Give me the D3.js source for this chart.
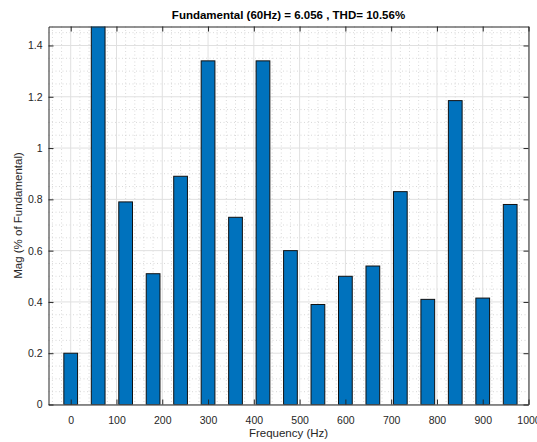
<!DOCTYPE html>
<html>
<head>
<meta charset="utf-8">
<script src="https://cdn.jsdelivr.net/npm/d3@7"></script>
<style>
  body { margin: 0; background: #fff; }
  svg { display: block; font-family: "Liberation Sans", Arial, sans-serif; }
</style>
</head>
<body>
<div id="chart"></div>
<script>
// harmonic frequencies (Hz) and magnitudes (% of fundamental)
const freqs = [0, 60, 120, 180, 240, 300, 360, 420, 480, 540, 600, 660, 720, 780, 840, 900, 960];
const mags = [0.2, 1.5, 0.79, 0.51, 0.89, 1.34, 0.73, 1.34, 0.6, 0.39, 0.5, 0.54, 0.83, 0.41, 1.185, 0.415, 0.78];
const xTicks = [0, 100, 200, 300, 400, 500, 600, 700, 800, 900, 1000];
const yTicks = [0, 0.2, 0.4, 0.6, 0.8, 1, 1.2, 1.4];
const titleText = "Fundamental (60Hz) = 6.056 , THD= 10.56%";

const W = 537, H = 442;
const margin = { top: 26.5, right: 8.5, bottom: 37.5, left: 48.5 };
const width = W - margin.left - margin.right;
const height = H - margin.top - margin.bottom;

const svg = d3.select("#chart").append("svg")
    .attr("width", W)
    .attr("height", H);

const g = svg.append("g")
    .attr("transform", `translate(${margin.left},${margin.top})`);

const x = d3.scaleLinear().domain([-48.5, 1000]).range([0, width]);
const y = d3.scaleLinear().domain([0, 1.474]).range([height, 0]);

// minor grid (dotted)
const xMinor = d3.range(-40, 1001, 20).filter(v => v % 100 !== 0);
const yMinor = d3.range(0.05, 1.474, 0.05).filter(v => Math.abs(v * 5 - Math.round(v * 5)) > 1e-6);

g.append("g").selectAll("line").data(xMinor).join("line")
    .attr("x1", d => x(d)).attr("x2", d => x(d))
    .attr("y1", 0).attr("y2", height)
    .attr("stroke", "#c8c8c8").attr("stroke-width", 0.7)
    .attr("stroke-dasharray", "1,2.5");
g.append("g").selectAll("line").data(yMinor).join("line")
    .attr("x1", 0).attr("x2", width)
    .attr("y1", d => y(d)).attr("y2", d => y(d))
    .attr("stroke", "#c8c8c8").attr("stroke-width", 0.7)
    .attr("stroke-dasharray", "1,2.5");

// major grid
g.append("g").selectAll("line").data(xTicks).join("line")
    .attr("x1", d => x(d)).attr("x2", d => x(d))
    .attr("y1", 0).attr("y2", height)
    .attr("stroke", "#e0e0e0").attr("stroke-width", 1);
g.append("g").selectAll("line").data(yTicks).join("line")
    .attr("x1", 0).attr("x2", width)
    .attr("y1", d => y(d)).attr("y2", d => y(d))
    .attr("stroke", "#e0e0e0").attr("stroke-width", 1);

// bars, clipped to the axes
svg.append("defs").append("clipPath").attr("id", "plot-clip")
    .append("rect").attr("width", width).attr("height", height);

const barW = 30;
g.append("g").attr("clip-path", "url(#plot-clip)")
    .selectAll("rect").data(freqs).join("rect")
    .attr("x", (d) => x(d - barW / 2))
    .attr("y", (d, i) => y(mags[i]))
    .attr("width", x(barW) - x(0))
    .attr("height", (d, i) => y(0) - y(mags[i]))
    .attr("fill", "#0072BD")
    .attr("stroke", "#111")
    .attr("stroke-width", 1);

// axes (ticks inward, box on)
const axisColor = "#262626";
const xAxis = g.append("g")
    .attr("transform", `translate(0,${height})`)
    .call(d3.axisBottom(x).tickValues(xTicks).tickSize(-5).tickPadding(12).tickSizeOuter(0)
        .tickFormat(d3.format("d")));
const xTop = g.append("g")
    .call(d3.axisTop(x).tickValues(xTicks).tickSize(-5).tickFormat("").tickSizeOuter(0));
const yAxis = g.append("g")
    .call(d3.axisLeft(y).tickValues(yTicks).tickSize(-5).tickPadding(6).tickSizeOuter(0)
        .tickFormat(d3.format("~g")));
const yRight = g.append("g")
    .attr("transform", `translate(${width},0)`)
    .call(d3.axisRight(y).tickValues(yTicks).tickSize(-5).tickFormat("").tickSizeOuter(0));

[xAxis, xTop, yAxis, yRight].forEach(a => {
    a.select(".domain").attr("stroke", axisColor).attr("stroke-width", 1);
    a.selectAll(".tick line").attr("stroke", axisColor);
    a.selectAll(".tick text")
        .attr("fill", axisColor)
        .style("font-size", "10.5px")
        .style("font-family", "Liberation Sans, Arial, sans-serif");
});

// title
svg.append("text")
    .attr("x", margin.left + width / 2)
    .attr("y", 19)
    .attr("text-anchor", "middle")
    .style("font-size", "11.5px")
    .style("font-weight", "bold")
    .attr("fill", "#000")
    .text(titleText);

// axis labels
svg.append("text")
    .attr("x", margin.left + width / 2)
    .attr("y", 437)
    .attr("text-anchor", "middle")
    .style("font-size", "11.5px")
    .attr("fill", axisColor)
    .text("Frequency (Hz)");

svg.append("text")
    .attr("transform", `translate(22,${margin.top + height / 2}) rotate(-90)`)
    .attr("text-anchor", "middle")
    .style("font-size", "11.5px")
    .attr("fill", axisColor)
    .text("Mag (% of Fundamental)");
</script>
</body>
</html>
